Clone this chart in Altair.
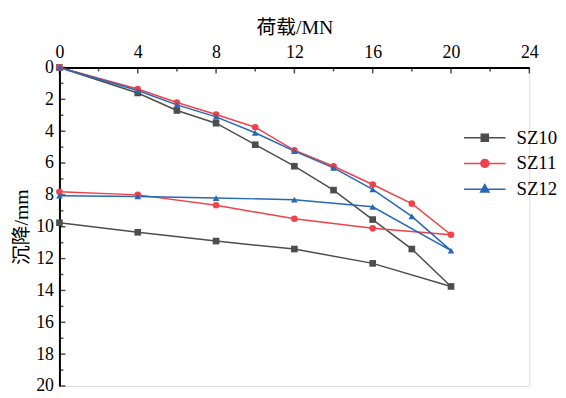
import altair as alt
import pandas as pd

# ---- data ----
series_names = ["SZ10", "SZ11", "SZ12"]
load_x = [0, 4, 6, 8, 10, 12, 14, 16, 18, 20]
unload_x = [16, 12, 8, 4, 0]  # unloading continues from the last loading point (20 MN)

sz10_load = [0, 1.6, 2.7, 3.5, 4.85, 6.2, 7.7, 9.55, 11.4, 13.75]
sz10_unload = [12.3, 11.4, 10.9, 10.35, 9.75]
sz11_load = [0, 1.35, 2.2, 2.95, 3.75, 5.2, 6.2, 7.35, 8.55, 10.5]
sz11_unload = [10.1, 9.5, 8.65, 8.0, 7.8]
sz12_load = [0, 1.45, 2.35, 3.1, 4.1, 5.25, 6.3, 7.65, 9.35, 11.5]
sz12_unload = [8.75, 8.3, 8.2, 8.1, 8.05]

x_major = [0, 4, 8, 12, 16, 20, 24]
x_minor = [2, 6, 10, 14, 18, 22]
y_major = [0, 2, 4, 6, 8, 10, 12, 14, 16, 18, 20]
y_minor = [1, 3, 5, 7, 9, 11, 13, 15, 17, 19]

colors = ["#4d4d4d", "#ef424b", "#2468b8"]
shapes = ["square", "circle", "triangle-up"]
legend_shapes = [
    "M-1,0H1M-0.17,-0.17H0.17V0.17H-0.17Z",
    "M-1,0H1M0.19,0A0.19,0.19,0,1,1,-0.19,0A0.19,0.19,0,1,1,0.19,0Z",
    "M-1,0H1M0,-0.22L0.2,0.14H-0.2Z",
]

rows = []
for name, ld, ul in [("SZ10", sz10_load, sz10_unload),
                     ("SZ11", sz11_load, sz11_unload),
                     ("SZ12", sz12_load, sz12_unload)]:
    xs = load_x + unload_x
    ys = ld + ul
    for i, (a, b) in enumerate(zip(xs, ys)):
        rows.append({"series": name, "x": a, "y": b, "idx": i})
df = pd.DataFrame(rows)

serif = "Liberation Serif, Times New Roman, DejaVu Serif, serif"
cjk = "Liberation Serif, Times New Roman, Noto Sans CJK SC, serif"

xscale = alt.Scale(domain=[0, 24], nice=False, zero=False)
yscale = alt.Scale(domain=[0, 20], reverse=True, nice=False, zero=False)

xaxis = alt.Axis(orient="top", values=x_major, title="荷载/MN")
yaxis = alt.Axis(orient="left", values=y_major, title="沉降/mm")

X = alt.X("x:Q", scale=xscale, axis=xaxis)
Y = alt.Y("y:Q", scale=yscale, axis=yaxis)

cscale = alt.Scale(domain=series_names, range=colors)

lines = alt.Chart(df).mark_line(strokeWidth=1.5).encode(
    x=X, y=Y,
    color=alt.Color("series:N", scale=cscale, legend=None),
    order="idx:Q",
)

points = alt.Chart(df).mark_point(filled=True, opacity=1, size=45).encode(
    x=X, y=Y,
    color=alt.Color("series:N", scale=cscale, legend=None),
    shape=alt.Shape("series:N", scale=alt.Scale(domain=series_names, range=shapes), legend=None),
)

leg = alt.Legend(title=None, orient="none", legendX=408, legendY=59)
legend_layer = alt.Chart(df).mark_point(filled=True, opacity=1, strokeWidth=1.5).encode(
    x=X, y=Y,
    color=alt.Color("series:N", scale=cscale, legend=leg),
    stroke=alt.Stroke("series:N", scale=cscale, legend=leg),
    shape=alt.Shape("series:N", scale=alt.Scale(domain=series_names, range=legend_shapes), legend=leg),
).transform_filter("datum.x < 0")

xt_major = alt.Chart(pd.DataFrame({"t": x_major})).mark_tick(
    orient="vertical", size=6, thickness=1.5, color="black", yOffset=3
).encode(x=alt.X("t:Q", scale=xscale, axis=xaxis), y=alt.datum(0, scale=yscale, axis=yaxis))
xt_minor = alt.Chart(pd.DataFrame({"t": x_minor})).mark_tick(
    orient="vertical", size=4, thickness=1.5, color="black", yOffset=2
).encode(x=alt.X("t:Q", scale=xscale, axis=xaxis), y=alt.datum(0, scale=yscale, axis=yaxis))
yt_major = alt.Chart(pd.DataFrame({"t": y_major})).mark_tick(
    orient="horizontal", size=6, thickness=1.5, color="black", xOffset=3
).encode(y=alt.Y("t:Q", scale=yscale, axis=yaxis), x=alt.datum(0, scale=xscale, axis=xaxis))
yt_minor = alt.Chart(pd.DataFrame({"t": y_minor})).mark_tick(
    orient="horizontal", size=4, thickness=1.5, color="black", xOffset=2
).encode(y=alt.Y("t:Q", scale=yscale, axis=yaxis), x=alt.datum(0, scale=xscale, axis=xaxis))

chart = alt.layer(
    xt_major, xt_minor, yt_major, yt_minor, lines, points, legend_layer
).resolve_scale(
    color="independent", shape="independent", stroke="independent"
).properties(
    width=475, height=322, padding={"left": 4, "top": 8, "right": 0, "bottom": 0}
).configure_view(stroke=None).configure(background="white").configure_axis(
    ticks=False, grid=False, domainColor="black", domainWidth=2,
    labelFont=serif, labelFontSize=18, labelColor="black", labelPadding=6,
    labelFlush=False, labelOverlap=False,
    titleFont=cjk, titleFontSize=20, titleFontWeight="normal", titleColor="black",
).configure_axisX(titlePadding=6).configure_axisY(titlePadding=4).configure_legend(
    labelFont=serif, labelFontSize=19, labelColor="black",
    symbolSize=1764, symbolStrokeWidth=1.5, labelOffset=10, clipHeight=24,
)

chart.save("out.html", embed_options={"renderer": "svg", "actions": False})
